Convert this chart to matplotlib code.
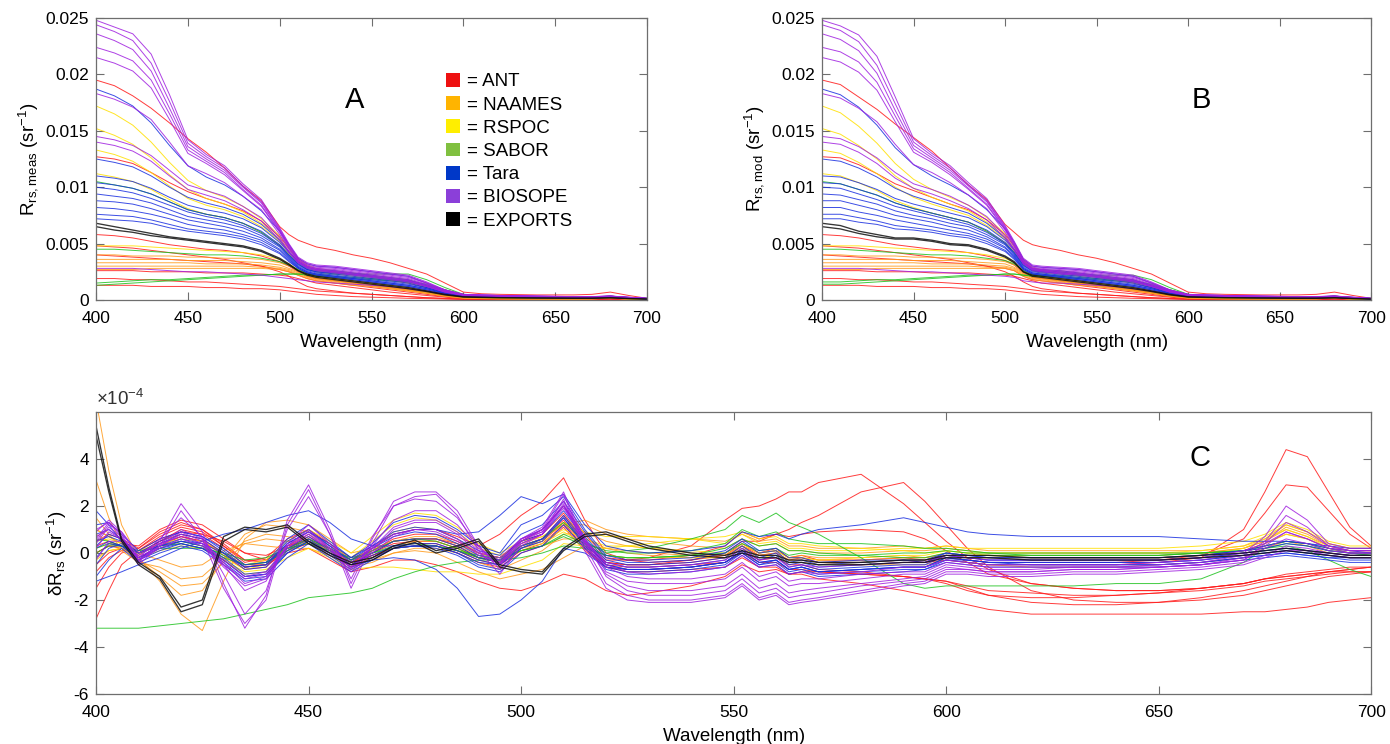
import matplotlib
matplotlib.use("Agg")
import matplotlib.pyplot as plt
from matplotlib.patches import Patch
from matplotlib.ticker import FuncFormatter

plt.rcParams['font.family'] = ['Liberation Sans', 'DejaVu Sans']
plt.rcParams['mathtext.default'] = 'regular'

# ---------------- categories ----------------
CAMPAIGNS = ['ANT', 'NAAMES', 'RSPOC', 'SABOR', 'Tara', 'BIOSOPE', 'EXPORTS']
LINE_COLORS = ['#ff1a1a', '#ff9a1a', '#ffe000', '#1fc21f', '#1a2fe0', '#a020e0', '#111111']
LEGEND_COLORS = ['#ee1111', '#ffb400', '#ffee00', '#80c040', '#0038c8', '#8b3fd9', '#000000']

# ---------------- wavelength grids (nm) ----------------
WL_RRS = [400, 410, 420, 430, 440, 450, 460, 470, 480, 490, 500, 505, 510, 515, 520, 530, 540,
          550, 560, 570, 580, 590, 600, 610, 620, 640, 660, 670, 680, 690, 700]
WL_DIFF = [400, 403, 406, 410, 415, 420, 425, 430, 435, 440, 445, 450, 455, 460, 465, 470, 475,
           480, 485, 490, 495, 500, 505, 510, 515, 520, 525, 530, 540, 548, 552, 556, 560, 563,
           566, 570, 580, 590, 595, 600, 605, 610, 620, 630, 640, 650, 660, 670, 675, 680, 685,
           690, 695, 700]

# ---------------- Panel A: measured Rrs (x1e-4 sr^-1) ----------------
MEAS_ANT = [
    [195,190,181,170,157,143,131,117,101,88,65,58,53,50,47,44,40,37,33,28,23,15,7,5.5,5,4.5,4.5,5,7,4,1.5],
    [127,125,121,113,104,96,90,85,79,70,56,46,36,30,27,25,23,21,18,15,11,6,3.5,2.8,2.5,2.2,2,2.2,3.5,1.8,1],
    [58,57,55,52,49,47,45,44,42,39,34,30,25,21,19,17,15,13,11,9,7,4,2,1.6,1.4,1.2,1.1,1.3,3,1,0.6],
    [40,39,38,37,36,35,34,33,32,30,27,25,22,19,17,15,13,11,9,7,5,3,1.5,1.2,1,0.8,0.7,0.8,1.5,0.6,0.4],
    [26,26,26,25,25,25,24,24,24,23,22,21,19,17,15,13,11,9,7,5.5,4,2.5,1.2,0.9,0.8,0.6,0.5,0.6,1.2,0.5,0.3],
    [19,19,18,18,17,16,16,15,14,13,12,11,10,9,8,7,6,5,4,3,2,1.5,0.8,0.6,0.5,0.4,0.4,0.5,0.9,0.4,0.3],
    [13,13,13,12,12,12,11,11,10,10,9,8,7,6,5,4,3,2.5,2,1.5,1.2,0.8,0.5,0.4,0.3,0.3,0.3,0.4,0.7,0.3,0.2],
    [48,47,46,44,42,40,38,36,33,30,25,21,16,12,10,8,6,5,4,3,2,1.2,0.6,0.5,0.4,0.3,0.3,0.4,0.8,0.3,0.2],
]
MEAS_NAAMES = [
    [40,40,39,39,39,38,38,37,37,36,33,30,26,22,20,18,16,14,12,10,7,4,2,1.5,1.3,1.1,1,1.2,2.2,0.9,0.6],
    [36,36,36,36,36,35,35,35,34,33,31,28,25,21,19,17,15,13,11,9,7,4,2,1.5,1.2,1,0.9,1.1,2,0.8,0.6],
    [33,33,33,33,33,33,32,32,32,31,29,27,24,21,19,17,15,13,11,9,6,3.5,1.8,1.4,1.2,1,0.9,1,1.9,0.8,0.5],
    [30,30,30,30,30,30,30,30,30,29,28,26,23,20,18,16,14,12,10,8,6,3.5,1.7,1.3,1.1,0.9,0.8,1,1.8,0.7,0.5],
    [27,27,27,28,28,28,28,28,28,28,27,25,22,19,17,15,13,12,10,8,6,3.3,1.6,1.2,1,0.8,0.8,0.9,1.7,0.7,0.5],
]
MEAS_RSPOC = [
    [172,165,155,140,122,106,97,91,83,72,57,47,37,31,28,26,24,22,20,18,13,7.5,4.2,3.7,3.3,2.9,2.6,2.6,3,2,1.2],
    [152,146,138,126,111,98,90,85,78,68,54,45,35,30,27,25,23,21,19,17,12,7,4,3.5,3.1,2.8,2.5,2.5,2.9,2,1.2],
    [133,129,123,113,101,90,84,80,74,65,52,43,34,29,26,24,22,20,18,16,12,7,4,3.5,3.1,2.7,2.4,2.4,2.8,1.9,1.1],
    [112,109,105,98,89,81,76,73,68,60,49,41,33,28,25,23,21,19,17,15,11,6.5,3.8,3.3,3,2.6,2.3,2.3,2.7,1.8,1.1],
    [48,48,48,47,46,45,44,43,42,40,36,32,27,23,21,19,17,15,13,11,8,5,2.5,2,1.8,1.5,1.3,1.4,2,1,0.6],
]
MEAS_SABOR = [
    [13,14,15,16,17,18,19,20,21,22,23,23,23,22,21,20,19,18,17,16,13,9,5,3.5,3,2.5,2.2,2.5,3.5,2,1.5],
    [15,16,17,18,18,19,20,21,22,22,23,23,23,23,23,23,23,23,23,23,18,11,5,3.5,3,2.4,2.2,2.4,3.3,2,1.5],
    [45,45,44,43,42,41,40,40,39,37,34,31,27,24,22,21,20,19,18,17,14,9,4.5,3.2,2.7,2.2,2,2.2,3,1.8,1.3],
    [105,102,99,94,87,80,76,73,68,60,48,40,32,27,25,24,23,21,19,17,13,7.5,4,3.5,3.1,2.7,2.4,2.4,2.8,1.9,1.1],
]
MEAS_TARA = [
    [187,181,172,157,137,119,109,102,92,79,61,49,37,32,30,29,27,25,23,21,15,8.5,4.8,4.3,3.9,3.3,2.9,2.9,3.4,2.3,1.4],
    [125,122,118,110,100,91,86,82,76,67,53,43,34,29,27,26,24,22,20,18,13,7.5,4.3,3.8,3.4,2.9,2.6,2.6,3,2.1,1.3],
    [110,108,105,99,91,84,80,77,72,64,51,42,33,28,26,25,23,21,19,17,13,7.5,4.2,3.7,3.3,2.9,2.5,2.5,3,2,1.2],
    [104,102,99,94,87,80,76,73,68,61,49,40,32,27,25,24,22,20,18,16,12,7,4,3.5,3.2,2.8,2.5,2.5,2.9,2,1.2],
    [100,98,95,90,84,78,74,71,66,59,48,39,31,27,25,23,21,19,17,15,11,6.5,3.8,3.4,3,2.6,2.3,2.3,2.8,1.9,1.1],
    [94,92,90,86,80,74,71,68,64,57,47,38,30,26,24,22,20,18,16,14,11,6.5,3.8,3.3,3,2.6,2.3,2.3,2.7,1.8,1.1],
    [88,87,85,81,76,71,68,65,61,55,45,37,29,25,23,21,19,17,15,13,10,6,3.6,3.2,2.9,2.5,2.2,2.2,2.6,1.8,1.1],
    [82,81,79,76,72,67,64,62,58,53,44,36,29,25,23,21,19,17,15,13,10,6,3.5,3.1,2.8,2.4,2.1,2.1,2.5,1.7,1],
    [76,75,74,71,67,63,61,59,56,51,42,35,28,24,22,20,18,16,14,12,9,5.5,3.3,2.9,2.6,2.3,2,2,2.4,1.6,1],
    [72,71,70,68,64,61,59,57,54,49,41,34,28,24,22,20,18,16,14,12,9,5.5,3.2,2.8,2.5,2.2,2,2,2.3,1.6,1],
]
MEAS_BIOSOPE = [
    [248,242,236,218,182,142,129,119,103,89,64,50,38,33,31,30,28,26,24,22,16,9,5,4.5,4,3.5,3,3,3.5,2.5,1.5],
    [244,238,230,210,176,139,127,117,101,87,63,49,37,32,30,29,27,25,23,21,15,9,5,4.4,4,3.4,3,3,3.5,2.4,1.5],
    [236,230,222,203,170,136,125,115,100,86,62,48,36,31,29,28,26,24,22,20,15,8.5,4.8,4.3,3.9,3.3,2.9,2.9,3.4,2.3,1.4],
    [224,219,212,195,165,133,123,113,98,84,61,47,35,30,28,27,25,23,21,19,14,8,4.6,4.1,3.7,3.2,2.8,2.8,3.3,2.2,1.4],
    [215,210,203,188,160,130,121,111,97,83,60,46,35,30,28,26,24,22,20,18,13,8,4.5,4,3.6,3.1,2.7,2.7,3.2,2.2,1.3],
    [183,178,171,160,140,119,112,104,92,80,58,45,34,29,27,25,23,21,19,17,13,7.5,4.3,3.8,3.4,3,2.6,2.6,3,2.1,1.3],
    [145,142,137,128,115,102,97,92,83,73,55,43,33,29,27,25,23,21,19,17,12,7,4.2,3.7,3.3,2.9,2.5,2.5,3,2,1.2],
    [140,137,132,123,110,98,93,88,80,70,53,42,33,28,26,24,22,20,18,16,12,7,4,3.6,3.2,2.8,2.5,2.5,2.9,2,1.2],
    [28,28,28,27,26,25,25,24,23,22,20,19,18,17,16,15,14,13,12,10,8,5,3,2.6,2.3,2,1.8,1.8,2.3,1.5,1],
]
MEAS_EXPORTS = [
    [68,65,62,59,56,54,52,50,48,44,37,32,26,23,21,19,17,15,13,11,8,5,2.8,2.4,2.1,1.8,1.6,1.6,2,1.3,0.8],
    [65,62,60,57,55,53,51,49,47,43,36,31,26,22,20,18,16,14,12,10,7.5,4.5,2.6,2.2,2,1.7,1.5,1.5,1.9,1.2,0.8],
]

# ---------------- Panel B: modelled Rrs (x1e-4 sr^-1) ----------------
MOD_ANT = [
    [195,191,180,169,156,144,132,117,102,89,67,60,53,49,47,44,40,37,33,28,23,15,7,5.5,5,4.5,4.5,5,7,4,1.5],
    [127,126,120,112,103,97,91,85,80,71,58,48,35,28,26,25,23,21,18,15,11,6,3.5,2.8,2.5,2.2,2,2.2,3.5,1.8,1],
    [58,57,55,52,49,47,45,44,42,39,35,31,24,20,19,17,15,13,11,9,7,4,2,1.6,1.4,1.2,1.1,1.3,3,1,0.6],
    [40,39,38,37,36,35,34,33,32,30,28,26,21,18,17,15,13,11,9,7,5,3,1.5,1.2,1,0.8,0.7,0.8,1.5,0.6,0.4],
    [26,26,26,25,25,25,24,24,24,23,22,21,19,17,15,13,11,9,7,5.5,4,2.5,1.2,0.9,0.8,0.6,0.5,0.6,1.2,0.5,0.3],
    [19,19,18,18,17,16,16,15,14,13,12,11,10,9,8,7,6,5,4,3,2,1.5,0.8,0.6,0.5,0.4,0.4,0.5,0.9,0.4,0.3],
    [13,13,13,12,12,12,11,11,10,10,9,8,7,6,5,4,3,2.5,2,1.5,1.2,0.8,0.5,0.4,0.3,0.3,0.3,0.4,0.7,0.3,0.2],
    [48,47,46,44,42,40,38,36,33,30,25,21,16,12,10,8,6,5,4,3,2,1.2,0.6,0.5,0.4,0.3,0.3,0.4,0.8,0.3,0.2],
]
MOD_NAAMES = [
    [40,40,39,39,39,38,38,37,37,36,34,31,25,21,20,18,16,14,12,10,7,4,2,1.5,1.3,1.1,1,1.2,2.2,0.9,0.6],
    [36,36,36,36,36,35,35,35,34,33,32,29,24,20,19,17,15,13,11,9,7,4,2,1.5,1.2,1,0.9,1.1,2,0.8,0.6],
    [33,33,33,33,33,33,32,32,32,31,30,28,23,20,19,17,15,13,11,9,6,3.5,1.8,1.4,1.2,1,0.9,1,1.9,0.8,0.5],
    [30,30,30,30,30,30,30,30,30,29,29,27,22,19,18,16,14,12,10,8,6,3.5,1.7,1.3,1.1,0.9,0.8,1,1.8,0.7,0.5],
    [27,27,27,28,28,28,28,28,28,28,28,26,21,18,17,15,13,12,10,8,6,3.3,1.6,1.2,1,0.8,0.8,0.9,1.7,0.7,0.5],
]
MOD_RSPOC = [
    [172,166,154,139,121,107,98,91,84,73,59,49,36,29,27,26,24,22,20,18,13,7.5,4.2,3.7,3.3,2.9,2.6,2.6,3,2,1.2],
    [152,147,137,125,110,99,91,85,79,69,56,47,34,28,26,25,23,21,19,17,12,7,4,3.5,3.1,2.8,2.5,2.5,2.9,2,1.2],
    [133,130,122,112,100,91,85,80,75,66,54,45,33,27,25,24,22,20,18,16,12,7,4,3.5,3.1,2.7,2.4,2.4,2.8,1.9,1.1],
    [112,110,104,97,88,82,77,73,69,61,51,43,32,26,24,23,21,19,17,15,11,6.5,3.8,3.3,3,2.6,2.3,2.3,2.7,1.8,1.1],
    [48,48,48,47,46,45,44,43,42,40,37,33,26,22,21,19,17,15,13,11,8,5,2.5,2,1.8,1.5,1.3,1.4,2,1,0.6],
]
MOD_SABOR = [
    [14,14,15,16,17,18,19,20,21,22,23,23,22,21,21,20,19,18,17,16,13,9,5,3.5,3,2.5,2.2,2.5,3.5,2,1.5],
    [16,16,17,18,18,19,20,21,22,22,23,23,22,22,22,22,22,22,22,22,18,11,5,3.5,3,2.4,2.2,2.4,3.3,2,1.5],
    [45,45,44,43,42,41,40,40,39,37,35,32,26,23,22,21,20,19,18,17,14,9,4.5,3.2,2.7,2.2,2,2.2,3,1.8,1.3],
    [105,103,98,93,86,81,77,73,69,61,50,42,31,26,25,24,23,21,19,17,13,7.5,4,3.5,3.1,2.7,2.4,2.4,2.8,1.9,1.1],
]
MOD_TARA = [
    [187,182,171,155,135,120,110,102,93,80,63,51,36,30,29,28,27,25,23,21,15,8.5,4.8,4.3,3.9,3.3,2.9,2.9,3.4,2.3,1.4],
    [125,123,117,109,99,92,87,82,77,68,55,45,33,28,27,26,24,22,20,18,13,7.5,4.3,3.8,3.4,2.9,2.6,2.6,3,2.1,1.3],
    [110,109,104,98,90,85,81,77,73,65,53,44,32,27,26,25,23,21,19,17,13,7.5,4.2,3.7,3.3,2.9,2.5,2.5,3,2,1.2],
    [104,103,98,93,86,81,77,73,69,62,51,42,31,26,25,24,22,20,18,16,12,7,4,3.5,3.2,2.8,2.5,2.5,2.9,2,1.2],
    [100,99,94,89,83,79,75,71,67,60,50,41,30,26,25,23,21,19,17,15,11,6.5,3.8,3.4,3,2.6,2.3,2.3,2.8,1.9,1.1],
    [94,93,89,85,79,75,72,68,65,58,49,40,29,25,24,22,20,18,16,14,11,6.5,3.8,3.3,3,2.6,2.3,2.3,2.7,1.8,1.1],
    [88,88,84,80,75,72,69,65,62,56,47,39,28,24,23,21,19,17,15,13,10,6,3.6,3.2,2.9,2.5,2.2,2.2,2.6,1.8,1.1],
    [82,82,78,75,71,68,65,62,59,54,46,38,28,24,23,21,19,17,15,13,10,6,3.5,3.1,2.8,2.4,2.1,2.1,2.5,1.7,1],
    [76,76,73,70,66,64,62,59,57,52,44,37,27,23,22,20,18,16,14,12,9,5.5,3.3,2.9,2.6,2.3,2,2,2.4,1.6,1],
    [72,72,69,67,63,62,60,57,55,50,43,36,27,23,22,20,18,16,14,12,9,5.5,3.2,2.8,2.5,2.2,2,2,2.3,1.6,1],
]
MOD_BIOSOPE = [
    [248,243,235,216,180,143,130,119,104,90,66,52,37,31,30,29,28,26,24,22,16,9,5,4.5,4,3.5,3,3,3.5,2.5,1.5],
    [244,239,229,208,174,140,128,117,102,88,65,51,36,30,29,28,27,25,23,21,15,9,5,4.4,4,3.4,3,3,3.5,2.4,1.5],
    [236,231,221,201,168,137,126,115,101,87,64,50,35,29,28,27,26,24,22,20,15,8.5,4.8,4.3,3.9,3.3,2.9,2.9,3.4,2.3,1.4],
    [224,220,211,193,163,134,124,113,99,85,63,49,34,28,27,26,25,23,21,19,14,8,4.6,4.1,3.7,3.2,2.8,2.8,3.3,2.2,1.4],
    [215,211,202,186,158,131,122,111,98,84,62,48,34,28,27,25,24,22,20,18,13,8,4.5,4,3.6,3.1,2.7,2.7,3.2,2.2,1.3],
    [183,179,170,158,138,120,113,104,93,81,60,47,33,27,26,24,23,21,19,17,13,7.5,4.3,3.8,3.4,3,2.6,2.6,3,2.1,1.3],
    [145,143,136,126,113,103,98,92,84,74,57,45,32,27,26,24,23,21,19,17,12,7,4.2,3.7,3.3,2.9,2.5,2.5,3,2,1.2],
    [140,138,131,121,108,99,94,88,81,71,55,44,32,26,25,23,22,20,18,16,12,7,4,3.6,3.2,2.8,2.5,2.5,2.9,2,1.2],
    [28,28,28,27,26,25,25,24,23,22,21,20,17,16,15,15,14,13,12,10,8,5,3,2.6,2.3,2,1.8,1.8,2.3,1.5,1],
]
MOD_EXPORTS = [
    [68,66,61,58,55,55,53,50,49,45,39,34,25,22,21,19,17,15,13,11,8,5,2.8,2.4,2.1,1.8,1.6,1.6,2,1.3,0.8],
    [65,63,59,56,54,54,52,49,48,44,38,33,25,21,20,18,16,14,12,10,7.5,4.5,2.6,2.2,2,1.7,1.5,1.5,1.9,1.2,0.8],
]

# ---------------- Panel C: residual dRrs (x1e-4 sr^-1) ----------------
DIFF_ANT = [
    [-2.8,-1.6,-0.5,0.1,0.6,0.9,0.8,0.5,0.0,-0.3, 0.2,0.4,0.1,-0.4,-0.1,0.2,0.3,0.3,0.1,-0.2,
     -0.3,0.3,0.6,1.6,0.4,-0.4,-0.5,-0.5,-0.4,-0.2, 0.3,-0.1,0.0,-0.3,-0.2,-0.4,-0.4,-0.3,-0.4,-0.3,
     -0.4,-0.5,-0.5,-0.5,-0.5,-0.4,-0.2,1.0,2.6,4.4, 4.1,2.6,1.1,0.3],
    [0.5,0.8,0.6,0.2,0.9,1.3,1.0,0.3,-0.4,-0.2, 0.6,1.0,0.4,-0.3,0.2,0.8,1.0,1.0,0.7,0.3,
     0.8,1.6,2.2,3.2,1.4,0.0,-0.3,-0.4,-0.3,-0.1, 0.4,0.0,0.2,-0.2,-0.1,-0.3,-0.3,-0.2,-0.3,-0.2,
     -0.3,-0.4,-0.4,-0.4,-0.4,-0.3,-0.1,0.6,1.7,2.9, 2.8,1.8,0.8,0.2],
    [0.0,0.3,0.3,0.0,0.5,0.8,0.6,0.0,-0.6,-0.5, 0.3,0.7,0.2,-0.4,0.1,0.6,0.8,0.8,0.5,0.0,
     -0.2,0.5,0.8,1.7,0.5,-0.3,-0.3,-0.2,0.3,1.4, 1.9,2.0,2.3,2.6,2.6,3.0,3.35,2.1,1.3,0.5,
     -0.2,-0.7,-1.3,-1.5,-1.6,-1.6,-1.5,-1.3,-1.1,-1.0, -0.9,-0.8,-0.7,-0.6],
    [-0.5,0.0,0.2,-0.2,0.3,0.7,0.5,-0.1,-0.7,-0.6, 0.2,0.6,0.1,-0.5,0.0,0.5,0.6,0.6,0.3,-0.2,
     -0.4,0.3,0.6,1.4,0.3,-0.4,-0.5,-0.5,-0.3,0.0, 0.5,0.5,0.8,1.0,1.3,1.6,2.6,3.0,2.2,1.2,
     0.2,-0.6,-1.6,-2.0,-2.1,-2.1,-2.0,-1.8,-1.6,-1.4, -1.2,-1.0,-0.9,-0.8],
    [0.3,0.5,0.3,0.0,0.4,0.7,0.5,0.0,-0.6,-0.5, 0.2,0.6,0.1,-0.5,-0.1,0.3,0.4,0.4,0.1,-0.3,
     -0.5,0.1,0.4,1.2,0.2,-0.6,-0.8,-0.8,-0.7,-0.6, -0.2,-0.6,-0.6,-0.9,-0.9,-1.1,-1.3,-1.6,-1.8,-2.0,
     -2.2,-2.4,-2.6,-2.6,-2.6,-2.6,-2.6,-2.5,-2.5,-2.4, -2.3,-2.1,-2.0,-1.9],
    [-1.5,-0.6,0.0,0.2,0.8,1.2,1.0,0.4,-0.3,-0.3, 0.3,0.6,0.2,-0.4,0.0,0.4,0.5,0.5,0.2,-0.2,
     -0.4,0.2,0.5,1.3,0.2,-0.5,-0.6,-0.6,-0.5,-0.4, 0.0,-0.4,-0.4,-0.7,-0.7,-0.8,-0.9,-1.0,-1.1,-1.2,
     -1.5,-1.8,-2.1,-2.2,-2.2,-2.1,-1.9,-1.6,-1.4,-1.2, -1.0,-0.8,-0.7,-0.6],
    [0.0,0.3,0.2,-0.1,0.5,1.0,0.8,0.2,-0.5,-0.5, 0.0,0.2,-0.3,-0.8,-0.6,-0.3,-0.3,-0.5,-0.8,-1.2,
     -1.5,-1.6,-1.3,-0.9,-1.1,-1.6,-1.8,-1.7,-1.4,-1.0, -0.5,-0.8,-0.7,-0.9,-0.8,-0.8,-0.9,-1.0,-1.1,-1.3,
     -1.6,-1.8,-1.9,-1.9,-1.8,-1.7,-1.5,-1.3,-1.1,-1.0, -0.9,-0.8,-0.8,-0.8],
    [1.0,0.7,0.4,0.3,1.0,1.4,1.2,0.6,0.0,-0.1, 0.3,0.5,0.2,-0.3,0.1,0.5,0.6,0.6,0.4,0.0,
     -0.2,0.5,1.0,2.0,0.8,-0.2,-0.3,-0.3,-0.1,0.3, 0.9,0.6,0.8,0.7,0.8,0.9,1.0,0.9,0.6,0.1,
     -0.4,-0.9,-1.3,-1.5,-1.6,-1.6,-1.5,-1.3,-1.1,-0.9, -0.8,-0.7,-0.6,-0.6],
    [-0.8,-0.2,0.1,0.1,0.7,1.1,0.9,0.3,-0.3,-0.4, 0.1,0.4,0.0,-0.6,-0.2,0.2,0.3,0.3,0.0,-0.4,
     -0.6,0.0,0.3,1.1,0.1,-0.6,-0.7,-0.7,-0.6,-0.4, 0.1,-0.3,-0.2,-0.5,-0.5,-0.7,-0.8,-1.0,-1.1,-1.2,
     -1.4,-1.6,-1.7,-1.8,-1.8,-1.7,-1.6,-1.4,-1.2,-1.1, -1.0,-0.9,-0.8,-0.8],
]
DIFF_NAAMES = [
    [6.5,3.5,1.2,-0.2,-1.2,-2.6,-3.3,-1.2,0.6,1.3, 1.4,1.2,0.6,0.0,0.2,0.5,0.6,0.6,0.3,-0.1,
     -0.3,0.3,0.6,1.2,1.4,1.0,0.8,0.7,0.6,0.5, 0.8,0.5,0.6,0.3,0.3,0.2,0.2,0.3,0.2,0.3,
     0.2,0.1,0.1,0.1,0.1,0.1,0.1,0.3,0.6,1.2, 0.9,0.4,0.2,0.2],
    [3.1,1.5,0.4,-0.3,-1.0,-1.8,-1.6,-0.3,0.8,1.2, 1.1,0.9,0.4,-0.2,0.1,0.5,0.7,0.7,0.4,0.0,
     -0.2,0.4,0.7,1.2,1.2,0.8,0.6,0.5,0.3,0.2, 0.6,0.3,0.4,0.1,0.1,0.0,0.0,0.1,0.1,0.2,
     0.1,0.0,0.0,0.0,0.0,0.0,0.0,0.2,0.5,1.1, 0.8,0.3,0.1,0.1],
    [1.5,0.8,0.2,-0.3,-0.8,-1.4,-1.3,-0.4,0.4,0.6, 0.5,0.4,0.0,-0.5,-0.3,0.0,0.2,0.2,0.0,-0.4,
     -0.7,-0.3,0.1,0.8,0.9,0.5,0.3,0.2,0.0,-0.1, 0.3,0.0,0.1,-0.2,-0.2,-0.3,-0.3,-0.2,-0.2,-0.1,
     -0.2,-0.2,-0.2,-0.2,-0.2,-0.2,-0.1,0.1,0.4,0.8, 0.6,0.2,0.0,0.0],
    [0.8,0.5,0.1,-0.4,-0.6,-1.1,-1.0,-0.2,0.5,0.8, 0.7,0.5,0.1,-0.4,-0.2,0.3,0.5,0.5,0.2,-0.2,
     -0.4,0.1,0.3,0.6,0.6,0.2,0.0,-0.1,-0.2,-0.2, 0.2,-0.1,0.0,-0.3,-0.3,-0.4,-0.5,-0.5,-0.5,-0.3,
     -0.4,-0.5,-0.6,-0.6,-0.6,-0.5,-0.4,-0.2,0.2,0.5, 0.3,0.0,-0.1,-0.1],
    [-0.2,0.1,0.2,0.0,-0.3,-0.6,-0.5,0.1,0.4,0.3, 0.2,0.2,-0.1,-0.6,-0.4,0.0,0.1,0.0,-0.4,-0.8,
     -1.1,-0.9,-0.7,-0.2,0.3,0.2,0.1,0.0,-0.1,-0.1, 0.3,0.0,0.1,-0.2,-0.1,-0.2,-0.2,-0.1,-0.2,0.0,
     -0.1,-0.1,-0.1,-0.1,-0.1,-0.1,0.0,0.2,0.5,1.0, 0.7,0.3,0.1,0.1],
]
DIFF_RSPOC = [
    [0.5,0.6,0.4,0.1,0.4,0.6,0.5,0.0,-0.5,-0.3, 0.5,1.0,0.5,0.0,0.7,1.4,1.7,1.6,1.1,0.4,
     0.0,0.5,0.7,1.3,0.9,0.7,0.7,0.7,0.6,0.4, 0.8,0.4,0.5,0.2,0.2,0.1,0.1,0.2,0.2,0.3,
     0.2,0.2,0.2,0.2,0.2,0.2,0.3,0.5,0.8,1.3, 1.0,0.5,0.3,0.3],
    [0.2,0.4,0.3,0.0,0.3,0.5,0.3,-0.2,-0.7,-0.5, 0.3,0.8,0.3,-0.2,0.5,1.2,1.5,1.4,0.9,0.2,
     -0.1,0.3,0.5,1.0,0.6,0.3,0.3,0.2,0.1,0.0, 0.4,0.0,0.1,-0.2,-0.2,-0.3,-0.2,-0.1,-0.1,0.1,
     0.0,0.0,0.0,0.0,0.0,0.0,0.1,0.3,0.7,1.2, 0.9,0.4,0.2,0.2],
    [1.0,0.7,0.4,0.0,0.3,0.4,0.2,-0.3,-0.8,-0.7, -0.2,0.2,-0.2,-0.7,-0.6,-0.6,-0.7,-0.8,-0.8,-0.9,
     -0.9,-0.6,-0.3,0.4,0.3,0.2,0.3,0.4,0.6,0.7, 0.9,0.6,0.7,0.4,0.4,0.3,0.2,0.1,0.0,0.1,
     0.0,-0.1,-0.2,-0.2,-0.2,-0.2,-0.1,0.1,0.4,0.8, 0.6,0.2,0.1,0.1],
    [-0.3,0.1,0.2,-0.2,0.1,0.3,0.2,-0.3,-0.9,-0.8, 0.1,0.6,0.1,-0.4,0.2,0.9,1.1,1.0,0.6,0.0,
     -0.3,0.2,0.4,0.9,0.4,-0.1,-0.2,-0.2,-0.2,-0.2, 0.2,-0.2,-0.1,-0.4,-0.4,-0.5,-0.4,-0.3,-0.3,-0.1,
     -0.2,-0.2,-0.2,-0.2,-0.2,-0.2,-0.1,0.2,0.6,1.0, 0.7,0.2,0.0,0.0],
]
DIFF_SABOR = [
    [-3.2,-3.2,-3.2,-3.2,-3.1,-3.0,-2.9,-2.8,-2.6,-2.4, -2.2,-1.9,-1.8,-1.7,-1.5,-1.1,-0.8,-0.55,-0.4,-0.3,
     -0.3,-0.2,0.0,0.3,0.2,-0.1,-0.2,-0.2,-0.1,0.0, 0.4,0.1,0.2,-0.1,0.0,-0.1,-0.1,0.0,0.0,0.1,
     0.0,0.0,0.0,0.0,0.0,0.0,0.0,0.1,0.3,0.5, 0.4,0.2,0.0,-0.1],
    [0.2,0.4,0.3,0.0,0.3,0.5,0.3,-0.1,-0.5,-0.4, 0.2,0.6,0.2,-0.3,0.1,0.5,0.6,0.5,0.2,-0.2,
     -0.3,0.3,0.6,1.3,0.5,0.0,0.1,0.2,0.6,1.0, 1.6,1.3,1.7,1.3,1.1,0.8,-0.2,-1.3,-1.5,-1.4,
     -1.4,-1.4,-1.4,-1.4,-1.3,-1.3,-1.1,-0.4,0.2,0.3, 0.1,-0.3,-0.7,-1.0],
    [0.0,0.3,0.3,0.0,0.3,0.4,0.2,-0.2,-0.5,-0.4, 0.1,0.5,0.2,-0.3,0.0,0.3,0.4,0.3,0.1,-0.2,
     -0.3,0.1,0.3,0.7,0.3,-0.1,-0.2,-0.2,-0.1,0.2, 0.6,0.3,0.4,0.1,0.1,0.0,-0.1,-0.2,-0.2,0.0,
     -0.1,-0.1,-0.1,-0.1,-0.1,-0.1,0.0,0.1,0.3,0.5, 0.4,0.1,0.0,0.0],
    [0.6,0.5,0.3,0.1,0.2,0.2,0.2,0.0,-0.3,-0.2, 0.2,0.4,0.1,-0.2,0.0,0.2,0.3,0.3,0.1,-0.1,
     -0.2,0.1,0.3,0.8,0.4,0.1,0.0,0.0,0.1,0.4, 1.0,0.7,0.9,0.6,0.5,0.4,0.4,0.3,0.2,0.2,
     0.1,0.0,-0.1,-0.1,-0.1,-0.1,0.0,0.1,0.2,0.4, 0.3,0.1,0.0,-0.1],
]
DIFF_TARA = [
    [0.3,0.8,0.6,-0.2,0.3,0.6,0.4,-0.2,-0.9,-0.8, 0.2,0.7,0.1,-0.5,0.0,0.5,0.6,0.6,0.3,-0.2,
     -0.4,0.5,0.8,1.8,0.6,-0.4,-0.6,-0.6,-0.5,-0.3, 0.2,-0.3,-0.1,-0.6,-0.5,-0.7,-0.6,-0.5,-0.5,-0.1,
     -0.2,-0.3,-0.3,-0.3,-0.3,-0.3,-0.2,0.0,0.1,0.2, 0.1,0.0,-0.1,-0.1],
    [1.8,1.2,0.5,-0.3,0.4,0.8,0.6,0.0,-0.7,-0.6, 0.4,0.9,0.3,-0.3,0.3,0.9,1.1,1.0,0.6,0.1,
     -0.1,0.8,1.2,2.2,0.9,-0.2,-0.4,-0.4,-0.3,0.0, 0.5,0.0,0.1,-0.4,-0.3,-0.5,-0.4,-0.3,-0.3,0.0,
     -0.1,-0.2,-0.2,-0.2,-0.2,-0.2,-0.1,0.1,0.2,0.4, 0.3,0.1,0.0,0.0],
    [-1.0,-0.3,0.2,-0.4,0.0,0.3,0.1,-0.5,-1.2,-1.1, -0.2,0.4,-0.2,-0.8,-0.3,0.2,0.3,0.3,0.0,-0.5,
     -0.7,0.2,0.5,1.5,0.3,-0.6,-0.8,-0.8,-0.7,-0.5, 0.0,-0.5,-0.4,-0.8,-0.7,-0.9,-0.8,-0.7,-0.7,-0.3,
     -0.4,-0.5,-0.5,-0.5,-0.5,-0.5,-0.4,-0.2,-0.1,0.0, -0.1,-0.2,-0.3,-0.3],
    [0.8,1.0,0.6,0.0,0.5,0.9,0.7,0.2,-0.5,-0.4, 0.6,1.2,0.5,-0.2,0.4,1.3,1.6,1.5,1.0,0.3,
     0.0,1.2,1.6,2.4,1.0,-0.1,-0.3,-0.3,-0.2,0.1, 0.6,0.1,0.2,-0.2,-0.2,-0.4,-0.3,-0.3,-0.4,0.0,
     -0.1,-0.2,-0.2,-0.2,-0.2,-0.2,-0.1,0.1,0.3,0.5, 0.4,0.2,0.1,0.0],
    [-0.5,0.2,0.4,-0.3,0.1,0.4,0.2,-0.4,-1.1,-1.0, 0.0,0.5,-0.1,-0.7,-0.2,0.2,0.3,0.2,-0.1,-0.6,
     -0.8,0.0,0.3,1.2,0.2,-0.7,-0.9,-0.9,-0.8,-0.6, -0.1,-0.6,-0.5,-0.9,-0.8,-1.0,-0.9,-0.8,-0.7,-0.4,
     -0.5,-0.6,-0.6,-0.6,-0.6,-0.6,-0.5,-0.3,-0.2,-0.1, -0.2,-0.3,-0.4,-0.4],
    [-1.2,-1.0,-0.8,-0.5,-0.2,0.2,0.5,0.8,1.0,1.3, 1.6,1.8,1.3,0.6,0.3,0.3,0.3,0.3,0.0,-0.4,
     -0.5,0.2,0.6,1.5,0.4,-0.5,-0.7,-0.7,-0.6,-0.4, 0.1,-0.4,-0.3,-0.7,-0.6,-0.8,-0.7,-0.6,-0.6,-0.2,
     -0.3,-0.4,-0.4,-0.4,-0.4,-0.4,-0.3,-0.1,0.0,0.1, 0.0,-0.1,-0.2,-0.2],
    [0.5,0.7,0.5,0.0,0.3,0.5,0.4,0.0,-0.6,-0.5, 0.4,0.9,0.4,-0.2,0.3,0.8,1.0,1.0,0.8,0.9,
     1.6,2.4,2.1,2.5,1.2,0.3,0.1,0.0,0.1,0.3, 0.9,0.7,0.8,0.6,0.8,1.0,1.2,1.5,1.3,1.1,
     0.9,0.8,0.7,0.7,0.7,0.7,0.6,0.5,0.5,0.5, 0.4,0.3,0.2,0.2],
    [0.2,0.5,0.3,-0.3,0.2,0.5,0.3,-0.3,-1.0,-0.9, 0.1,0.6,0.0,-0.6,-0.3,-0.2,-0.3,-0.7,-1.5,-2.7,
     -2.6,-2.0,-1.2,0.2,0.0,-0.6,-0.7,-0.7,-0.6,-0.4, 0.1,-0.4,-0.3,-0.7,-0.6,-0.8,-0.7,-0.6,-0.6,-0.2,
     -0.3,-0.4,-0.4,-0.4,-0.4,-0.4,-0.3,-0.1,0.0,0.1, 0.0,-0.1,-0.2,-0.2],
    [1.2,1.3,0.8,0.1,0.6,0.9,0.7,0.1,-0.6,-0.5, 0.5,1.0,0.3,-0.4,0.2,0.7,0.9,0.8,0.4,-0.1,
     -0.3,0.6,1.0,2.0,0.7,-0.3,-0.5,-0.5,-0.4,-0.2, 0.3,-0.2,0.0,-0.5,-0.4,-0.6,-0.5,-0.4,-0.4,-0.1,
     -0.2,-0.3,-0.3,-0.3,-0.3,-0.3,-0.2,0.0,0.1,0.2, 0.1,0.0,-0.1,-0.1],
    [-0.2,0.4,0.3,-0.2,0.2,0.4,0.2,-0.3,-1.0,-0.9, 0.0,0.5,0.0,-0.5,-0.1,0.3,0.4,0.4,0.1,-0.3,
     -0.5,0.3,0.6,1.6,0.5,-0.5,-0.7,-0.7,-0.6,-0.4, 0.0,-0.5,-0.3,-0.7,-0.6,-0.8,-0.7,-0.6,-0.6,-0.3,
     -0.3,-0.4,-0.5,-0.5,-0.5,-0.5,-0.4,-0.2,-0.1,0.0, -0.1,-0.2,-0.2,-0.2],
]
DIFF_BIOSOPE = [
    [0.6,1.3,0.8,-0.4,0.5,2.1,0.9,-1.3,-3.2,-1.8, 1.4,2.9,1.0,-1.3,0.6,2.2,2.6,2.6,1.8,0.3,
     -0.7,0.5,1.0,2.5,0.3,-1.3,-1.8,-2.0,-2.0,-1.8, -1.3,-1.9,-1.7,-2.1,-2.0,-1.9,-1.6,-1.3,-1.2,-0.8,
     -0.8,-0.9,-0.9,-0.8,-0.8,-0.7,-0.6,-0.4,-0.1,0.3, 0.2,0.0,-0.1,-0.1],
    [0.4,1.1,0.7,-0.5,0.3,1.8,0.6,-1.5,-3.0,-2.0, 1.2,2.7,0.8,-1.5,0.4,2.0,2.4,2.5,1.6,0.1,
     -0.9,0.3,0.8,2.3,0.1,-1.5,-2.0,-2.1,-2.1,-1.9, -1.4,-2.0,-1.8,-2.2,-2.1,-2.0,-1.7,-1.4,-1.3,-0.9,
     -0.9,-1.0,-1.0,-0.9,-0.9,-0.8,-0.7,-0.5,-0.2,0.1, 0.1,-0.1,-0.2,-0.2],
    [0.9,1.4,0.9,-0.2,0.6,1.5,0.7,-0.9,-2.6,-1.6, 1.0,2.4,0.8,-1.1,0.7,2.0,2.3,2.2,1.5,0.3,
     -0.5,0.6,1.1,2.6,0.5,-1.0,-1.6,-1.8,-1.8,-1.6, -1.1,-1.7,-1.5,-1.9,-1.8,-1.7,-1.4,-1.2,-1.1,-0.7,
     -0.7,-0.8,-0.8,-0.7,-0.7,-0.6,-0.5,-0.3,0.2,0.6, 0.4,0.1,0.0,0.0],
    [0.5,1.2,0.9,0.0,0.4,1.0,0.6,-0.5,-1.6,-1.2, 0.4,1.2,0.4,-0.7,0.3,1.4,1.8,1.8,1.2,0.2,
     -0.4,0.6,1.0,2.2,0.6,-0.8,-1.2,-1.3,-1.3,-1.1, -0.6,-1.2,-1.0,-1.4,-1.3,-1.3,-1.1,-0.9,-0.9,-0.5,
     -0.6,-0.7,-0.7,-0.6,-0.6,-0.6,-0.5,-0.2,0.3,0.9, 0.6,0.2,0.1,0.1],
    [0.2,0.9,0.6,-0.3,0.3,0.8,0.4,-0.6,-1.4,-1.1, 0.3,1.0,0.2,-0.8,0.1,1.0,1.3,1.3,0.8,0.0,
     -0.5,0.4,0.8,2.0,0.4,-0.9,-1.4,-1.6,-1.6,-1.4, -0.9,-1.5,-1.3,-1.7,-1.6,-1.5,-1.3,-1.1,-1.0,-0.6,
     -0.7,-0.8,-0.8,-0.7,-0.7,-0.6,-0.5,-0.3,0.4,1.3, 0.9,0.3,0.1,0.1],
    [1.0,1.3,0.7,-0.3,0.2,0.6,0.3,-0.5,-1.1,-0.9, 0.2,0.8,0.1,-0.6,0.0,0.7,1.0,1.0,0.6,-0.1,
     -0.4,0.4,0.8,1.9,0.6,-0.5,-0.8,-0.9,-0.8,-0.6, -0.1,-0.6,-0.5,-0.9,-0.8,-0.9,-0.8,-0.6,-0.6,-0.3,
     -0.4,-0.5,-0.5,-0.5,-0.5,-0.4,-0.3,0.0,0.7,2.0, 1.4,0.4,0.2,0.2],
    [-0.3,0.5,0.5,-0.2,0.3,0.9,0.5,-0.4,-1.3,-1.0, 0.3,0.9,0.2,-0.6,0.2,1.1,1.4,1.4,0.9,0.1,
     -0.3,0.5,0.9,2.1,0.5,-0.6,-1.0,-1.1,-1.1,-0.9, -0.4,-1.0,-0.8,-1.2,-1.1,-1.1,-0.9,-0.8,-0.8,-0.4,
     -0.5,-0.6,-0.6,-0.6,-0.6,-0.5,-0.4,-0.1,0.5,1.6, 1.1,0.3,0.1,0.1],
    [0.7,1.0,0.6,-0.1,0.4,0.7,0.4,-0.3,-1.0,-0.8, 0.3,0.8,0.2,-0.4,0.2,0.8,1.0,0.9,0.5,0.0,
     -0.2,0.6,0.9,2.0,0.5,-0.4,-0.6,-0.6,-0.5,-0.3, 0.2,-0.3,-0.2,-0.6,-0.5,-0.6,-0.5,-0.4,-0.4,-0.1,
     -0.2,-0.3,-0.3,-0.3,-0.3,-0.3,-0.2,0.1,0.4,0.9, 0.6,0.2,0.0,0.0],
]
DIFF_EXPORTS = [
    [5.4,2.8,0.6,-0.4,-1.0,-2.3,-2.0,0.7,1.1,1.0, 1.2,0.5,0.0,-0.4,-0.2,0.3,0.55,0.1,0.3,0.6,
     -0.5,-0.7,-0.8,0.2,0.8,0.9,0.6,0.3,0.0,-0.1, 0.1,-0.1,-0.1,-0.3,-0.3,-0.4,-0.4,-0.3,-0.3,-0.1,
     -0.1,-0.1,-0.2,-0.2,-0.2,-0.2,-0.1,0.0,0.1,0.2, 0.1,0.0,-0.1,-0.1],
    [5.0,2.6,0.5,-0.5,-1.1,-2.5,-2.2,0.5,1.0,0.9, 1.1,0.4,-0.1,-0.5,-0.3,0.2,0.45,0.0,0.2,0.5,
     -0.6,-0.8,-0.9,0.1,0.7,0.8,0.5,0.2,-0.1,-0.2, 0.0,-0.2,-0.2,-0.4,-0.4,-0.5,-0.5,-0.4,-0.4,-0.2,
     -0.2,-0.2,-0.3,-0.3,-0.3,-0.3,-0.2,-0.1,0.0,0.1, 0.0,-0.1,-0.2,-0.2],
]

MEAS = [MEAS_ANT, MEAS_NAAMES, MEAS_RSPOC, MEAS_SABOR, MEAS_TARA, MEAS_BIOSOPE, MEAS_EXPORTS]
MOD = [MOD_ANT, MOD_NAAMES, MOD_RSPOC, MOD_SABOR, MOD_TARA, MOD_BIOSOPE, MOD_EXPORTS]
DIFF = [DIFF_ANT, DIFF_NAAMES, DIFF_RSPOC, DIFF_SABOR, DIFF_TARA, DIFF_BIOSOPE, DIFF_EXPORTS]
SCALE = 1e-4  # stored values are in units of 1e-4 sr^-1

# ---------------- figure ----------------
fig = plt.figure(figsize=(13.9, 7.44), dpi=100)
axA = fig.add_axes([0.0691, 0.5968, 0.3964, 0.3790])
axB = fig.add_axes([0.5914, 0.5968, 0.3950, 0.3790])
axC = fig.add_axes([0.0691, 0.0672, 0.9173, 0.3790])

EDGE = '#6e6e6e'


def style(ax):
    for s in ax.spines.values():
        s.set_color(EDGE)
        s.set_linewidth(0.9)
    ax.tick_params(direction='in', top=True, right=True, length=6, width=0.8,
                   color=EDGE, labelsize=12.5)
    ax.tick_params(axis='x', pad=8)
    ax.tick_params(axis='y', pad=5)
    ax.set_xlim(400, 700)
    ax.set_xticks([400, 450, 500, 550, 600, 650, 700])
    ax.set_xlabel('Wavelength (nm)', fontsize=13.5, labelpad=5.5)


def draw(ax, wl, groups, lw):
    for ci, grp in enumerate(groups):
        for spec in grp:
            ax.plot(wl, [v * SCALE for v in spec], color=LINE_COLORS[ci],
                    lw=(0.95 if CAMPAIGNS[ci] == 'EXPORTS' else lw), alpha=0.85,
                    solid_joinstyle='round')


for ax, data, ylab, letter, lx in [(axA, MEAS, 'R$_{rs,meas}$ (sr$^{-1}$)', 'A', 0.47),
                                   (axB, MOD, 'R$_{rs,mod}$ (sr$^{-1}$)', 'B', 0.69)]:
    draw(ax, WL_RRS, data, 0.7)
    style(ax)
    ax.set_ylim(0, 0.025)
    ax.set_yticks([0, 0.005, 0.01, 0.015, 0.02, 0.025])
    ax.yaxis.set_major_formatter(FuncFormatter(lambda v, p: '%g' % round(v, 4)))
    ax.set_ylabel(ylab, fontsize=13.5, labelpad=4)
    ax.text(lx, 0.71, letter, transform=ax.transAxes, fontsize=21, ha='center', va='center')

draw(axC, WL_DIFF, DIFF, 0.7)
style(axC)
axC.set_ylim(-6e-4, 6e-4)
axC.set_yticks([-6e-4, -4e-4, -2e-4, 0, 2e-4, 4e-4])
axC.yaxis.set_major_formatter(FuncFormatter(lambda v, p: '%g' % round(v / SCALE, 3)))
axC.set_ylabel('δR$_{rs}$ (sr$^{-1}$)', fontsize=13.5, labelpad=3.5)
axC.text(0.0, 1.012, '×10$^{-4}$', transform=axC.transAxes, fontsize=13.5,
         ha='left', va='bottom', color='#333333')
axC.text(0.866, 0.837, 'C', transform=axC.transAxes, fontsize=21, ha='center', va='center')

handles = [Patch(facecolor=c, edgecolor='none') for c in LEGEND_COLORS]
axA.legend(handles, ['= ' + c for c in CAMPAIGNS], loc='upper left',
           bbox_to_anchor=(0.635, 0.805), frameon=False, fontsize=13.5,
           handlelength=0.75, handleheight=0.75, handletextpad=0.35,
           labelspacing=0.31, borderpad=0, borderaxespad=0)

fig.savefig('out.png', dpi=100, facecolor='white')
